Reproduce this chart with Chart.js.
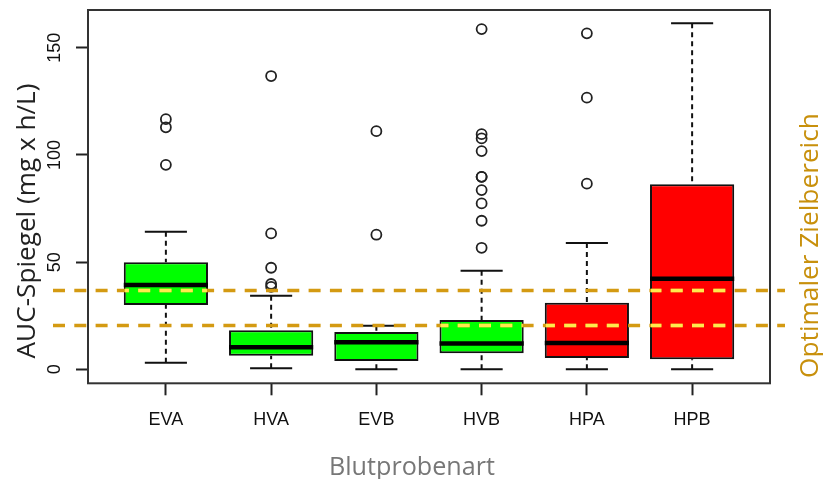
<!DOCTYPE html>
<html>
<head>
<meta charset="utf-8">
<script src="https://cdn.jsdelivr.net/npm/chart.js@4.4.0/dist/chart.umd.min.js"></script>
<style>
  body { margin: 0; background: #fff; }
</style>
</head>
<body>
<canvas id="aucChart" width="823" height="479"></canvas>
<script>
// Sample types
const categories = ['EVA', 'HVA', 'EVB', 'HVB', 'HPA', 'HPB'];

// Box plot statistics (mg x h/L)
const whiskerLow = [3.1, 0.5, 0, 0, 0, 0];
const quartile1 = [30.0, 6.3, 3.9, 7.5, 5.3, 4.7];
const medians = [39.3, 10.3, 12.6, 12.1, 12.3, 42.3];
const quartile3 = [49.9, 18.2, 17.4, 23.0, 31.1, 86.3];
const whiskerHigh = [64.2, 34.3, 20.3, 46.0, 58.9, 161.4];

// Outliers per sample type
const outliers = [
    [116.7, 112.9, 95.4],
    [136.8, 63.4, 47.4, 39.8, 38.5],
    [111.1, 62.8],
    [158.7, 109.7, 107.7, 101.8, 89.8, 89.8, 83.6, 77.4, 69.3, 56.7],
    [156.7, 126.7, 86.6],
    []
];

const boxColors = ['#00ff00', '#00ff00', '#00ff00', '#00ff00', '#ff0000', '#ff0000'];
const yTicks = [0, 50, 100, 150];

// Optimal target range (dashed lines)
const targetRange = [20.5, 36.8];

const outlierPoints = outliers.flatMap((vals, i) => vals.map(v => ({ x: i + 1, y: v })));

const tickFont = { family: '"Liberation Sans", Arial, sans-serif', size: 18 };
const titleFamily = '"Open Sans", "Noto Sans", sans-serif';

// Draw a text so that it spans a given width
function drawFitted(ctx, text, color, width, x, y, rotation) {
    ctx.save();
    ctx.font = '100px ' + titleFamily;
    const size = 100 * width / ctx.measureText(text).width;
    ctx.font = size + 'px ' + titleFamily;
    ctx.fillStyle = color;
    ctx.textAlign = 'center';
    ctx.textBaseline = 'alphabetic';
    ctx.translate(x, y);
    ctx.rotate(rotation);
    ctx.fillText(text, 0, 0);
    ctx.restore();
}

const boxPlotExtras = {
    id: 'boxPlotExtras',
    afterDatasetsDraw(chart) {
        const ctx = chart.ctx;
        const xScale = chart.scales.x;
        const yScale = chart.scales.y;
        const bars = chart.getDatasetMeta(0).data;
        ctx.save();
        bars.forEach((bar, i) => {
            const cx = xScale.getPixelForValue(i + 1);
            const half = bar.width / 2;
            // whiskers
            ctx.strokeStyle = '#111';
            ctx.lineWidth = 2;
            ctx.setLineDash([5, 4]);
            ctx.beginPath();
            ctx.moveTo(cx, yScale.getPixelForValue(whiskerLow[i]));
            ctx.lineTo(cx, yScale.getPixelForValue(quartile1[i]));
            ctx.moveTo(cx, yScale.getPixelForValue(whiskerHigh[i]));
            ctx.lineTo(cx, yScale.getPixelForValue(quartile3[i]));
            ctx.stroke();
            // whisker caps
            ctx.setLineDash([]);
            ctx.beginPath();
            [whiskerLow[i], whiskerHigh[i]].forEach(v => {
                const py = yScale.getPixelForValue(v);
                ctx.moveTo(cx - half / 2, py);
                ctx.lineTo(cx + half / 2, py);
            });
            ctx.stroke();
            // median
            const my = yScale.getPixelForValue(medians[i]);
            ctx.strokeStyle = '#000';
            ctx.lineWidth = 4.5;
            ctx.beginPath();
            ctx.moveTo(cx - half, my);
            ctx.lineTo(cx + half, my);
            ctx.stroke();
        });
        ctx.restore();
    },
    afterDraw(chart) {
        const ctx = chart.ctx;
        const area = chart.chartArea;
        const yScale = chart.scales.y;
        const bars = chart.getDatasetMeta(0).data;
        const lineStart = 53;
        const lineEnd = 785;

        ctx.save();
        ctx.lineWidth = 3.5;
        ctx.setLineDash([12, 9.3]);
        targetRange.forEach(v => {
            const py = yScale.getPixelForValue(v);
            ctx.strokeStyle = '#d49a12';
            ctx.beginPath();
            ctx.moveTo(lineStart, py);
            ctx.lineTo(lineEnd, py);
            ctx.stroke();
            // the line looks yellow where it crosses a filled box
            bars.forEach((bar, i) => {
                const top = yScale.getPixelForValue(quartile3[i]);
                const bottom = yScale.getPixelForValue(quartile1[i]);
                if (py > top && py < bottom) {
                    ctx.save();
                    ctx.beginPath();
                    ctx.rect(bar.x - bar.width / 2 + 1, top, bar.width - 2, bottom - top);
                    ctx.clip();
                    ctx.strokeStyle = '#ffea4d';
                    ctx.beginPath();
                    ctx.moveTo(lineStart, py);
                    ctx.lineTo(lineEnd, py);
                    ctx.stroke();
                    ctx.restore();
                }
            });
        });

        // plot frame
        ctx.setLineDash([]);
        ctx.lineWidth = 2;
        ctx.strokeStyle = '#333';
        ctx.strokeRect(area.left, area.top, area.right - area.left, area.bottom - area.top);
        ctx.restore();

        // titles
        drawFitted(ctx, 'AUC-Spiegel (mg x h/L)', '#222', 275, 35, 221, -Math.PI / 2);
        drawFitted(ctx, 'Blutprobenart', '#777', 166, 412, 475, 0);
        drawFitted(ctx, 'Optimaler Zielbereich', '#c8900c', 265, 818, 245.5, -Math.PI / 2);
    }
};

new Chart(document.getElementById('aucChart').getContext('2d'), {
    type: 'bar',
    data: {
        datasets: [{
            type: 'bar',
            label: 'Box',
            data: categories.map((c, i) => ({ x: i + 1, y: [quartile1[i], quartile3[i]] })),
            backgroundColor: boxColors,
            borderColor: '#111',
            borderWidth: 2,
            borderSkipped: false,
            barPercentage: 0.8,
            categoryPercentage: 1
        }, {
            type: 'scatter',
            label: 'Ausreißer',
            data: outlierPoints,
            showLine: false,
            pointStyle: 'circle',
            pointRadius: 5,
            pointBorderWidth: 1.8,
            pointBorderColor: '#222',
            pointBackgroundColor: 'rgba(0,0,0,0)'
        }]
    },
    options: {
        responsive: false,
        animation: false,
        events: [],
        layout: { padding: { left: 0, top: 10, right: 53, bottom: 0 } },
        plugins: {
            legend: { display: false },
            tooltip: { enabled: false }
        },
        scales: {
            x: {
                type: 'linear',
                min: 0.26,
                max: 6.74,
                offset: false,
                afterBuildTicks: s => { s.ticks = categories.map((c, i) => ({ value: i + 1 })); },
                afterFit: s => { s.height = 95.7; s.paddingLeft = 0; s.paddingRight = 0; },
                border: { display: false },
                grid: { offset: false, drawOnChartArea: false, tickLength: 12, tickWidth: 2, tickColor: '#222' },
                ticks: {
                    callback: (v, i) => categories[i],
                    autoSkip: false,
                    maxRotation: 0,
                    padding: 14,
                    color: '#111',
                    font: tickFont
                }
            },
            y: {
                min: -6.5,
                max: 167.6,
                afterBuildTicks: s => { s.ticks = yTicks.map(v => ({ value: v })); },
                afterFit: s => { s.width = 88; s.paddingTop = 0; s.paddingBottom = 0; },
                border: { display: false },
                grid: { drawOnChartArea: false, tickLength: 12, tickWidth: 2, tickColor: '#222' },
                ticks: {
                    minRotation: 90,
                    maxRotation: 90,
                    crossAlign: 'center',
                    padding: 6,
                    color: '#111',
                    font: tickFont
                }
            }
        }
    },
    plugins: [boxPlotExtras]
});
</script>
</body>
</html>
